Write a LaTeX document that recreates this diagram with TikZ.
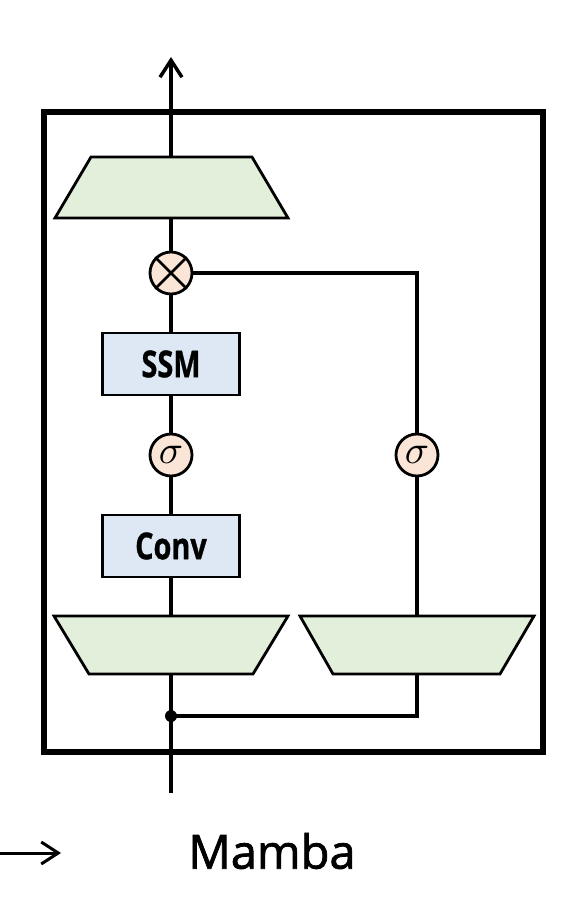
\documentclass[tikz,border=0pt]{standalone}
\usepackage{fontspec}
\setmainfont{Open Sans}
\usetikzlibrary{arrows.meta}

\definecolor{projgreen}{RGB}{226,239,218}
\definecolor{opblue}{RGB}{221,232,244}
\definecolor{actpeach}{RGB}{251,229,214}

\newcommand{\boxtext}[1]{\scalebox{0.78}[1]{\fontsize{37}{37}\selectfont\bfseries\addfontfeature{FakeBold=1}#1}}
\newcommand{\actsym}{\scalebox{4}{$\sigma$}}

\tikzset{
	proj/.style={draw, line width=2.8pt, fill=projgreen, line join=miter},
	opbox/.style={rectangle, draw, line width=2.8pt, fill=opblue,
		minimum width=137pt, minimum height=62pt, inner sep=0pt},
	act/.style={circle, draw, line width=2.8pt, fill=actpeach,
		minimum size=42pt, inner sep=0pt},
	wire/.style={line width=3.5pt},
}

\begin{document}
\begin{tikzpicture}[x=1pt,y=-1pt]

	\useasboundingbox (0,0) rectangle (578,911);

	\coordinate (input) at (171,793);
	\coordinate (output) at (171,57);
	\coordinate (fork) at (171,716);

	% block frame
	\draw [line width=5.5pt] (44,112) rectangle (543,752);

	% projections
	\coordinate (outproj top) at (171,157);
	\coordinate (outproj bot) at (171,218);
	\draw [proj] (55,218) -- (288,218) -- (252,157) -- (91,157) -- cycle;

	\coordinate (inleft top) at (171,616);
	\coordinate (inleft bot) at (171,674);
	\draw [proj] (54,616) -- (288,616) -- (253,674) -- (89,674) -- cycle;

	\coordinate (inright top) at (417,616);
	\coordinate (inright bot) at (417,674);
	\draw [proj] (300,616) -- (534,616) -- (500,674) -- (333,674) -- cycle;

	% main path
	\node [opbox] (ssm) at (171,364) {\boxtext{SSM}};
	\node [opbox] (conv) at (171,546) {\boxtext{Conv}};
	\node [act] (sigleft) at (171,455) {\actsym};
	\node [act] (sigright) at (417,455) {\actsym};
	\node [act] (mul) at (171,273) {};
	\draw [line width=2.5pt] (mul.north west) -- (mul.south east);
	\draw [line width=2.5pt] (mul.north east) -- (mul.south west);

	\draw [wire] (input) -- (fork) -- (inleft bot);
	\draw [wire] (inleft top) -- (conv.south);
	\draw [wire] (conv.north) -- (sigleft.south);
	\draw [wire] (sigleft.north) -- (ssm.south);
	\draw [wire] (ssm.north) -- (mul.south);
	\draw [wire] (mul.north) -- (outproj bot);
	\draw [wire, -{Straight Barb[length=17pt,width=22pt,line width=3.5pt]}] (outproj top) -- (output);

	% gate branch
	\draw [wire] (fork) -| (inright bot);
	\draw [wire] (inright top) -- (sigright.south);
	\draw [wire] (sigright.north) |- (mul.east);

	\fill (fork) circle (6pt);

	% caption
	\coordinate (from) at (0,853);
	\coordinate (to) at (61,853);
	\draw [line width=3pt, -{Straight Barb[length=17pt,width=22pt,line width=3pt]}] (from) -- (to);
	\node (title) at (272,851) {\fontsize{47}{47}\selectfont\addfontfeature{FakeBold=1.6}Mamba};

\end{tikzpicture}
\end{document}
